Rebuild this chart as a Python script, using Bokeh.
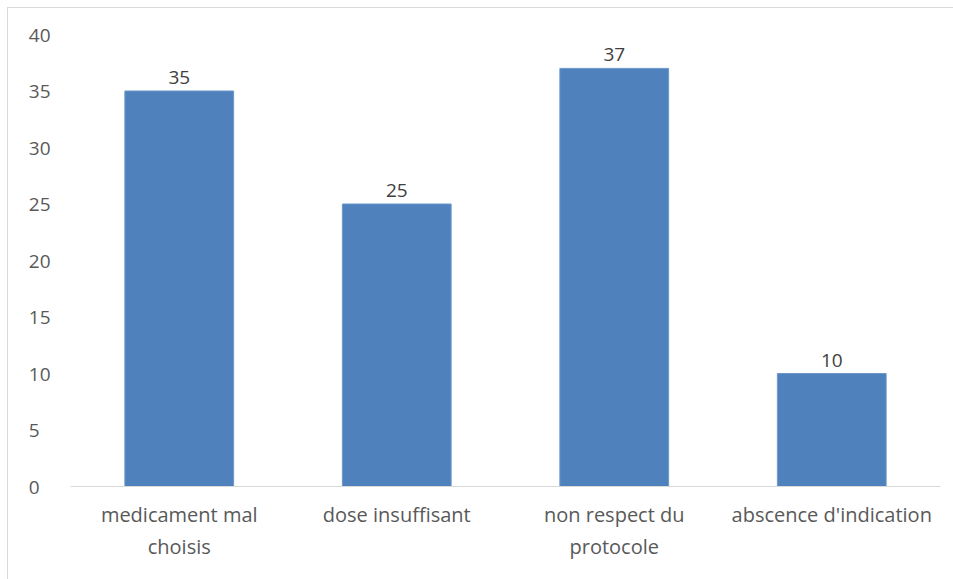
from bokeh.plotting import figure
from bokeh.models import ColumnDataSource, Range1d, FixedTicker
from bokeh.embed import file_html
from bokeh.resources import INLINE
from bokeh.core.properties import value

categories = ["medicament mal\nchoisis", "dose insuffisant", "non respect du\nprotocole", "abscence d'indication"]
counts = [35, 25, 37, 10]
y_ticks = [0, 5, 10, 15, 20, 25, 30, 35, 40]

FONT = "Open Sans"
src = ColumnDataSource(dict(cat=categories, val=counts, lab=[str(v) for v in counts]))

p = figure(x_range=categories, y_range=Range1d(0, 40), width=946, height=572,
           output_backend="svg", toolbar_location=None,
           min_border_left=62, min_border_right=14, min_border_top=26, min_border_bottom=94,
           margin=(7, 0, 0, 7),
           styles={"border-top": "1px solid #d9d9d9", "border-left": "1px solid #d9d9d9"})
p.outline_line_color = None
p.xgrid.grid_line_color = None
p.ygrid.grid_line_color = None

p.vbar(x="cat", top="val", width=0.5, source=src, fill_color="#4F81BD", line_color="#6B97CB", line_width=1)
p.text(x="cat", y="val", text="lab", source=src, text_align="center", text_baseline="bottom",
       y_offset=-7, text_font=value(FONT), text_font_size="19px", text_color="#404040")

p.yaxis.ticker = FixedTicker(ticks=y_ticks)
p.yaxis.major_label_overrides = {t: (str(t) + "\u2007" if t < 10 else str(t)) for t in y_ticks}
p.yaxis.axis_line_color = None
p.yaxis.major_tick_line_color = None
p.yaxis.minor_tick_line_color = None
p.yaxis.major_label_text_font = FONT
p.yaxis.major_label_text_font_size = "19px"
p.yaxis.major_label_text_color = "#595959"
p.yaxis.major_label_standoff = 14

p.xaxis.axis_line_color = "#d9d9d9"
p.xaxis.axis_line_width = 1
p.xaxis.major_tick_line_color = None
p.xaxis.minor_tick_line_color = None
p.xaxis.major_label_text_font = FONT
p.xaxis.major_label_text_font_size = "20px"
p.xaxis.major_label_text_color = "#595959"
p.xaxis.major_label_standoff = 8

open("out.html", "w").write(file_html(p, INLINE))
